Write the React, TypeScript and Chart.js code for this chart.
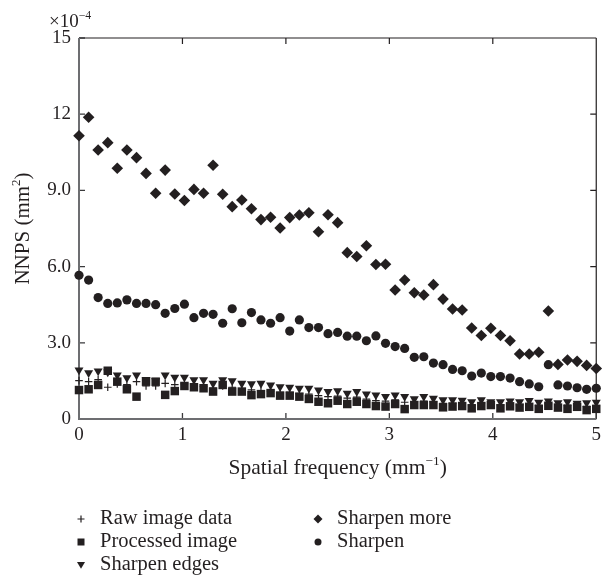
import React, { useEffect, useRef } from 'react';
import { Chart, registerables } from 'chart.js';

Chart.register(...registerables);

// ---------- data (values in units of 1e-4 mm^2) ----------
const frequencies = [
  0, 0.093, 0.185, 0.278, 0.37, 0.463, 0.556, 0.648, 0.741, 0.833,
  0.926, 1.019, 1.111, 1.204, 1.296, 1.389, 1.481, 1.574, 1.667, 1.759,
  1.852, 1.944, 2.037, 2.13, 2.222, 2.315, 2.407, 2.5, 2.593, 2.685,
  2.778, 2.87, 2.963, 3.056, 3.148, 3.241, 3.333, 3.426, 3.519, 3.611,
  3.704, 3.796, 3.889, 3.981, 4.074, 4.167, 4.259, 4.352, 4.444, 4.537,
  4.63, 4.722, 4.815, 4.907, 5.0,
];

const rawImageData = [
  1.51, 1.47, 1.55, 1.25, 1.38, 1.35, 1.47, 1.3, 1.3, 1.4,
  1.35, 1.38, 1.3, 1.28, 1.22, 1.3, 1.25, 1.18, 1.15, 1.12,
  1.1, 1.05, 1.05, 1.0, 0.98, 0.92, 0.88, 0.9, 0.82, 0.86,
  0.78, 0.72, 0.7, 0.75, 0.66, 0.68, 0.7, 0.68, 0.62, 0.62,
  0.62, 0.56, 0.62, 0.6, 0.56, 0.58, 0.56, 0.58, 0.54, 0.6,
  0.54, 0.55, 0.54, 0.5, 0.52,
];

const processedImage = [
  1.14, 1.17, 1.34, 1.9, 1.47, 1.17, 0.88, 1.47, 1.47, 0.95,
  1.1, 1.3, 1.25, 1.21, 1.08, 1.34, 1.08, 1.08, 0.94, 0.98,
  1.02, 0.92, 0.92, 0.88, 0.79, 0.68, 0.62, 0.72, 0.59, 0.68,
  0.59, 0.51, 0.49, 0.59, 0.39, 0.55, 0.55, 0.55, 0.46, 0.49,
  0.51, 0.42, 0.51, 0.55, 0.42, 0.5, 0.45, 0.48, 0.4, 0.52,
  0.45, 0.4, 0.48, 0.35, 0.4,
];

const sharpenEdges = [
  1.93, 1.82, 1.89, 1.85, 1.73, 1.62, 1.73, 1.55, 1.5, 1.73,
  1.64, 1.64, 1.54, 1.54, 1.4, 1.54, 1.5, 1.4, 1.38, 1.4,
  1.33, 1.27, 1.25, 1.21, 1.21, 1.14, 1.08, 1.11, 1.01, 1.08,
  0.98, 0.94, 0.88, 0.94, 0.88, 0.79, 0.88, 0.81, 0.75, 0.75,
  0.73, 0.68, 0.75, 0.68, 0.68, 0.7, 0.68, 0.72, 0.66, 0.7,
  0.64, 0.68, 0.62, 0.64, 0.66,
];

const sharpenMore = [
  11.15, 11.88, 10.59, 10.88, 9.87, 10.59, 10.29, 9.67, 8.89, 9.8,
  8.86, 8.6, 9.04, 8.89, 9.99, 8.85, 8.36, 8.62, 8.28, 7.85,
  7.94, 7.52, 7.93, 8.03, 8.12, 7.37, 8.04, 7.73, 6.55, 6.4,
  6.82, 6.08, 6.09, 5.08, 5.47, 4.97, 4.88, 5.29, 4.72, 4.33,
  4.29, 3.58, 3.29, 3.57, 3.29, 3.08, 2.56, 2.56, 2.63, 4.25,
  2.15, 2.32, 2.27, 2.11, 1.99,
];

const sharpen = [
  5.66, 5.47, 4.78, 4.55, 4.57, 4.69, 4.55, 4.55, 4.5, 4.16,
  4.35, 4.52, 3.99, 4.16, 4.12, 3.77, 4.34, 3.79, 4.19, 3.9,
  3.77, 3.99, 3.46, 3.9, 3.6, 3.6, 3.36, 3.41, 3.26, 3.26,
  3.08, 3.27, 2.98, 2.85, 2.78, 2.43, 2.45, 2.2, 2.14, 1.95,
  1.9, 1.69, 1.81, 1.67, 1.67, 1.61, 1.47, 1.38, 1.27, 2.14,
  1.34, 1.3, 1.23, 1.17, 1.21,
];

const xTickValues = [0, 1, 2, 3, 4, 5];
const xTickLabels = ['0', '1', '2', '3', '4', '5'];
const yTickValues = [0, 3, 6, 9, 12, 15];
const yTickLabels = ['0', '3.0', '6.0', '9.0', '12', '15'];
const seriesNames = ['Raw image data', 'Processed image', 'Sharpen edges', 'Sharpen more', 'Sharpen'];

// ---------- styles ----------
const FONT = '"Liberation Serif", "Times New Roman", serif';
const INK = '#231f20';
const AXIS_GRAY = '#6d6e71';
const W = 606;
const H = 581;

type Part = { text: string; sup?: boolean };

function richWidth(ctx: CanvasRenderingContext2D, parts: Part[], size: number) {
  let w = 0;
  for (const p of parts) {
    ctx.font = `${p.sup ? size * 0.62 : size}px ${FONT}`;
    w += ctx.measureText(p.text).width;
  }
  return w;
}

function drawRich(ctx: CanvasRenderingContext2D, parts: Part[], x: number, y: number, size: number, align: 'left' | 'center') {
  const total = richWidth(ctx, parts, size);
  let cx = align === 'center' ? x - total / 2 : x;
  ctx.textAlign = 'left';
  ctx.textBaseline = 'alphabetic';
  for (const p of parts) {
    ctx.font = `${p.sup ? size * 0.62 : size}px ${FONT}`;
    ctx.fillText(p.text, cx, p.sup ? y - size * 0.42 : y);
    cx += ctx.measureText(p.text).width;
  }
}

function drawMarker(ctx: CanvasRenderingContext2D, kind: string, x: number, y: number, s: number) {
  ctx.save();
  ctx.fillStyle = INK;
  ctx.strokeStyle = INK;
  ctx.beginPath();
  if (kind === 'cross') {
    ctx.lineWidth = 1.2;
    ctx.moveTo(x - s, y); ctx.lineTo(x + s, y);
    ctx.moveTo(x, y - s); ctx.lineTo(x, y + s);
    ctx.stroke();
  } else if (kind === 'rect') {
    ctx.rect(x - s, y - s, 2 * s, 2 * s);
    ctx.fill();
  } else if (kind === 'triangle') {
    ctx.moveTo(x - s, y - s * 0.75); ctx.lineTo(x + s, y - s * 0.75); ctx.lineTo(x, y + s * 0.95);
    ctx.closePath(); ctx.fill();
  } else if (kind === 'rectRot') {
    ctx.moveTo(x, y - s); ctx.lineTo(x + s, y); ctx.lineTo(x, y + s); ctx.lineTo(x - s, y);
    ctx.closePath(); ctx.fill();
  } else {
    ctx.arc(x, y, s, 0, Math.PI * 2); ctx.fill();
  }
  ctx.restore();
}

const framePlugin = {
  id: 'frame',
  beforeDatasetsDraw(chart: any) {
    const { ctx, chartArea: a, scales } = chart;
    const xs = scales.x;
    const ys = scales.y;
    ctx.save();
    const T = 6;
    // top and right (thin black)
    ctx.strokeStyle = INK;
    ctx.lineWidth = 1.2;
    ctx.beginPath();
    ctx.moveTo(a.left, a.top); ctx.lineTo(a.right, a.top);
    ctx.moveTo(a.right, a.top); ctx.lineTo(a.right, a.bottom);
    for (const v of xTickValues) {
      const px = xs.getPixelForValue(v);
      ctx.moveTo(px, a.top); ctx.lineTo(px, a.top + T);
    }
    for (const v of yTickValues) {
      const py = ys.getPixelForValue(v);
      ctx.moveTo(a.right, py); ctx.lineTo(a.right - T, py);
    }
    ctx.stroke();
    // ticks on left and bottom
    ctx.strokeStyle = '#3a3a3c';
    ctx.lineWidth = 1.3;
    ctx.beginPath();
    for (const v of xTickValues) {
      const px = xs.getPixelForValue(v);
      ctx.moveTo(px, a.bottom); ctx.lineTo(px, a.bottom - T);
    }
    for (const v of yTickValues) {
      const py = ys.getPixelForValue(v);
      ctx.moveTo(a.left, py); ctx.lineTo(a.left + T, py);
    }
    ctx.stroke();
    // left and bottom (thicker gray)
    ctx.strokeStyle = AXIS_GRAY;
    ctx.lineWidth = 2;
    ctx.beginPath();
    ctx.moveTo(a.left, a.top); ctx.lineTo(a.left, a.bottom + 1);
    ctx.moveTo(a.left - 1, a.bottom); ctx.lineTo(a.right, a.bottom);
    ctx.stroke();
    ctx.restore();
  },
  afterDraw(chart: any) {
    const { ctx, chartArea: a } = chart;
    ctx.save();
    ctx.fillStyle = INK;
    // multiplier
    drawRich(ctx, [{ text: '\u00d710' }, { text: '\u22124', sup: true }], 49, 27, 19, 'left');
    // x title
    drawRich(ctx, [{ text: 'Spatial frequency (mm' }, { text: '\u22121', sup: true }, { text: ')' }],
      (a.left + a.right) / 2, 474, 21.5, 'center');
    // y title
    ctx.save();
    ctx.translate(29, (a.top + a.bottom) / 2);
    ctx.rotate(-Math.PI / 2);
    drawRich(ctx, [{ text: 'NNPS (mm' }, { text: '2', sup: true }, { text: ')' }], 0, 0, 21, 'center');
    ctx.restore();
    // legend
    const kinds = ['cross', 'rect', 'triangle', 'rectRot', 'circle'];
    const sizes = [3.5, 3.5, 4, 4.5, 3.5];
    const cols = [81, 318];
    const rows = [519, 542, 565];
    seriesNames.forEach((name, i) => {
      const col = i < 3 ? 0 : 1;
      const row = i < 3 ? i : i - 3;
      const mx = cols[col];
      const my = rows[row];
      drawMarker(ctx, kinds[i], mx, my, sizes[i]);
      ctx.font = `20.5px ${FONT}`;
      ctx.fillStyle = INK;
      ctx.textAlign = 'left';
      ctx.textBaseline = 'middle';
      ctx.fillText(name, mx + 19, my);
    });
    ctx.restore();
  },
};

export default function App() {
  const ref = useRef<HTMLCanvasElement | null>(null);

  useEffect(() => {
    if (!ref.current) return;
    const pts = (ys: number[]) => ys.map((y, i) => ({ x: frequencies[i], y }));
    const base = {
      showLine: false,
      backgroundColor: INK,
      borderColor: INK,
      pointBackgroundColor: INK,
      pointBorderColor: INK,
      pointHoverRadius: 0,
      clip: false as const,
    };
    const chart = new Chart(ref.current, {
      type: 'scatter',
      data: {
        datasets: [
          { ...base, label: seriesNames[1], data: pts(processedImage), pointStyle: 'rect', pointRadius: 6, pointBorderWidth: 0 },
          { ...base, label: seriesNames[2], data: pts(sharpenEdges), pointStyle: 'triangle', pointRotation: 180, pointRadius: 5.2, pointBorderWidth: 0 },
          { ...base, label: seriesNames[0], data: pts(rawImageData), pointStyle: 'cross', pointRadius: 3.8, pointBorderWidth: 1.2 },
          { ...base, label: seriesNames[3], data: pts(sharpenMore), pointStyle: 'rectRot', pointRadius: 5.8, pointBorderWidth: 0 },
          { ...base, label: seriesNames[4], data: pts(sharpen), pointStyle: 'circle', pointRadius: 4.6, pointBorderWidth: 0 },
        ],
      },
      options: {
        responsive: false,
        animation: false,
        devicePixelRatio: 1,
        layout: { padding: { top: 38, right: 4, left: 0, bottom: 0 } },
        plugins: { legend: { display: false }, tooltip: { enabled: false } },
        events: [],
        scales: {
          x: {
            type: 'linear',
            min: 0,
            max: 5,
            afterBuildTicks: (s: any) => { s.ticks = xTickValues.map((v) => ({ value: v })); },
            afterFit: (s: any) => { s.height = H - 419; },
            ticks: {
              callback: (v: any) => xTickLabels[xTickValues.indexOf(Number(v))],
              font: { family: FONT, size: 19 },
              color: INK,
              padding: 5,
              maxRotation: 0,
            },
            grid: { display: false, drawTicks: false },
            border: { display: false },
          },
          y: {
            type: 'linear',
            min: 0,
            max: 15,
            afterBuildTicks: (s: any) => { s.ticks = yTickValues.map((v) => ({ value: v })); },
            afterFit: (s: any) => { s.width = 79; },
            ticks: {
              callback: (v: any) => yTickLabels[yTickValues.indexOf(Number(v))],
              font: { family: FONT, size: 19 },
              color: INK,
              padding: 8,
            },
            grid: { display: false, drawTicks: false },
            border: { display: false },
          },
        },
      },
      plugins: [framePlugin],
    });
    return () => chart.destroy();
  }, []);

  return (
    <div style={{ position: 'fixed', left: 0, top: 0, width: W, height: H, background: '#fff' }}>
      <canvas ref={ref} width={W} height={H} style={{ width: W, height: H, display: 'block' }} />
    </div>
  );
}
